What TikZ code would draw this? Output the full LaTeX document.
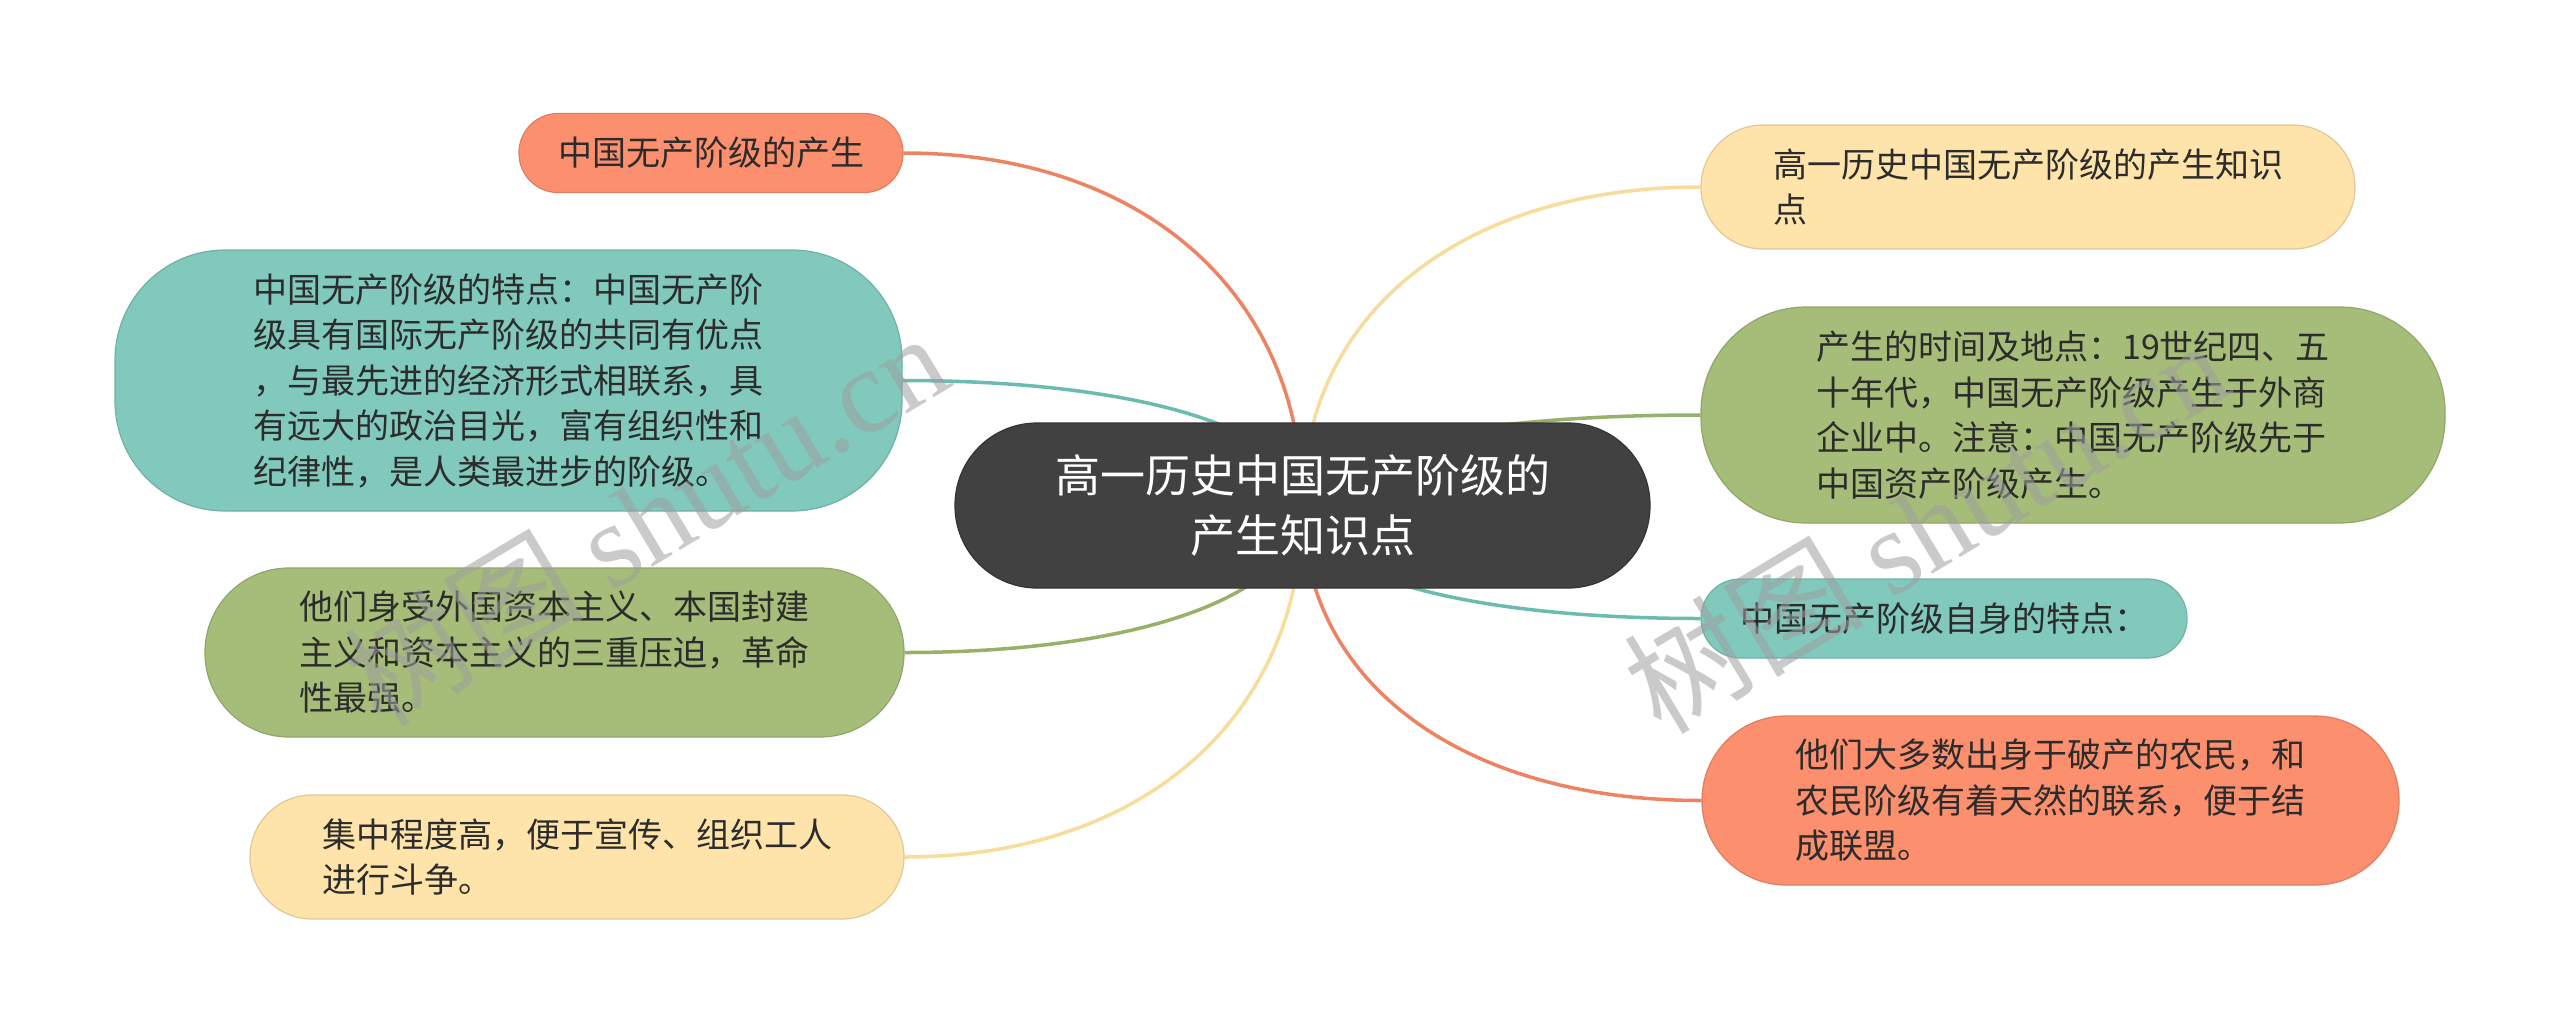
\documentclass[tikz,border=0pt]{standalone}
\usepackage{fontspec}
\setmainfont{Noto Sans CJK SC}
\newfontfamily\cjkfont{Noto Sans CJK SC}
\newfontfamily\wmserif{Liberation Serif}
\usetikzlibrary{calc}
\pgfdeclarelayer{bg}
\pgfdeclarelayer{paper}
\pgfsetlayers{paper,bg,main}
\definecolor{orangeF}{HTML}{FC8F6E}
\definecolor{orangeL}{HTML}{EE8362}
\definecolor{tealF}{HTML}{80C9BC}
\definecolor{tealL}{HTML}{6ABDAE}
\definecolor{greenF}{HTML}{A5BD78}
\definecolor{greenL}{HTML}{97B169}
\definecolor{yellowF}{HTML}{FEE4AA}
\definecolor{yellowL}{HTML}{F8DC9C}
\definecolor{rootF}{HTML}{414141}
\definecolor{txt}{HTML}{2C2C2C}
\tikzset{
  leaf/.style={draw=#1!88!black, fill=#1, line width=1.2pt, text=txt,
    font=\fontsize{34}{45.5}\selectfont, align=left, inner sep=0pt},
  rootbox/.style={draw=rootF!80!black, fill=rootF, line width=1.2pt, text=white,
    font=\fontsize{45}{60}\selectfont, align=center, inner sep=0pt,
    minimum width=695pt, minimum height=165pt, rounded corners=82pt},
  link/.style={line width=3.5pt, draw=#1},
  wmark/.style={rotate=31, text=gray!75, opacity=0.55, inner sep=0pt}
}
\newcommand{\linkto}[3]{%
  \draw[link=#3] (root.center) .. controls ($(root.center)!0.6!(root.center|-#1.#2)$)
    and ($(#1.#2)!0.6!(#1.#2-|root.center)$) .. (#1.#2);}
\begin{document}
\begin{tikzpicture}[x=1pt,y=-1pt]
\useasboundingbox (0,0) rectangle (2560,1034);
\begin{pgfonlayer}{paper}
\fill[white] (0,0) rectangle (2560,1034);
\end{pgfonlayer}

% root
\node[rootbox] (root) at (1302.5,505.5) {高一历史中国无产阶级的\\产生知识点};

% left children
\node[leaf=orangeF, minimum width=384pt, minimum height=79pt, rounded corners=39pt]
  (n1) at (711,153) {中国无产阶级的产生};
\node[leaf=tealF, minimum width=787pt, minimum height=261pt, rounded corners=110pt]
  (n2) at (508.5,380.5) {中国无产阶级的特点：中国无产阶\\级具有国际无产阶级的共同有优点\\，与最先进的经济形式相联系，具\\有远大的政治目光，富有组织性和\\纪律性，是人类最进步的阶级。};
\node[leaf=greenF, minimum width=699pt, minimum height=169pt, rounded corners=84pt]
  (n3) at (554.5,652.5) {他们身受外国资本主义、本国封建\\主义和资本主义的三重压迫，革命\\性最强。};
\node[leaf=yellowF, minimum width=654pt, minimum height=124pt, rounded corners=62pt]
  (n4) at (577,857) {集中程度高，便于宣传、组织工人\\进行斗争。};

% right children
\node[leaf=yellowF, minimum width=654pt, minimum height=124pt, rounded corners=62pt]
  (n5) at (2028,187) {高一历史中国无产阶级的产生知识\\点};
\node[leaf=greenF, minimum width=744pt, minimum height=216pt, rounded corners=105pt]
  (n6) at (2073,415) {产生的时间及地点：19世纪四、五\\十年代，中国无产阶级产生于外商\\企业中。注意：中国无产阶级先于\\中国资产阶级产生。};
\node[leaf=tealF, minimum width=486pt, minimum height=79pt, rounded corners=39pt]
  (n7) at (1944,618.5) {中国无产阶级自身的特点：};
\node[leaf=orangeF, minimum width=697pt, minimum height=169pt, rounded corners=84pt]
  (n8) at (2050.5,800.5) {他们大多数出身于破产的农民，和\\农民阶级有着天然的联系，便于结\\成联盟。};

% connectors
\begin{pgfonlayer}{bg}
\linkto{n1}{east}{orangeL}
\linkto{n2}{east}{tealL}
\linkto{n3}{east}{greenL}
\linkto{n4}{east}{yellowL}
\linkto{n5}{west}{yellowL}
\linkto{n6}{west}{greenL}
\linkto{n7}{west}{tealL}
\linkto{n8}{west}{orangeL}
\end{pgfonlayer}

% watermarks
\node[wmark] (wm1) at (645,518) {\fontsize{120}{120}\selectfont\cjkfont 树图 \wmserif shutu.cn};
\node[wmark] (wm2) at (1925,525) {\fontsize{120}{120}\selectfont\cjkfont 树图 \wmserif shutu.cn};
\end{tikzpicture}
\end{document}
